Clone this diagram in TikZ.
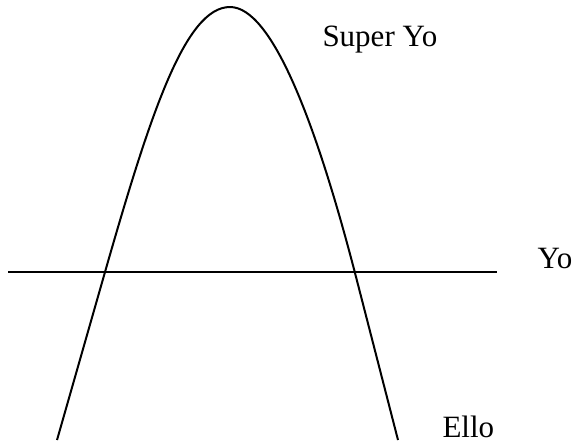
\documentclass[tikz,border=0pt]{standalone}
\usepackage{fontspec}
\setmainfont{Liberation Serif}
\usetikzlibrary{calc}
\tikzset{every node/.style={font=\fontsize{12.4pt}{15pt}\selectfont,inner sep=0pt},curve/.style={line width=.8pt,line join=round},level/.style={line width=.8pt},tag/.style={anchor=base west}}

\begin{document}
\begin{tikzpicture}[x=.4pt,y=-.4pt]
\useasboundingbox (0,0) rectangle (573,442);
\draw[curve] (57,440)--(105,272)..controls (150,115) and (185,7)..(230,7)..controls (272,7) and (316,123)..(355,273)--(398,440);
\coordinate (lvlL) at (8,272);\coordinate (lvlR) at (497,272);\draw[level] (lvlL)--(lvlR);
\node[tag] (super) at (322,46){Super Yo};\node[tag] (yo) at (537,268){Yo};\node[tag] (ello) at (442,437){Ello};
\end{tikzpicture}
\end{document}
